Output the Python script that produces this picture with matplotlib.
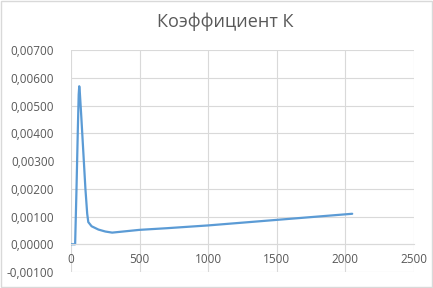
import matplotlib.pyplot as plt
from matplotlib.ticker import FuncFormatter, MultipleLocator
from matplotlib.patches import Rectangle

# values
x_vals = [0, 30, 40, 50, 56, 60, 64, 75, 90, 105, 118, 126, 150, 200, 250, 300,
          400, 500, 700, 1000, 1250, 1500, 1750, 2050]
k_vals = [0.0, 0.0, 0.0020, 0.0042, 0.0054, 0.0057, 0.0055, 0.0046, 0.0033, 0.0020,
          0.0011, 0.00080, 0.00065, 0.00053, 0.00046, 0.00042,
          0.00047, 0.00052, 0.00058, 0.00068, 0.00078, 0.00088, 0.00098, 0.00110]

title = "Коэффициент К"

plt.rcParams['font.family'] = ['Open Sans', 'DejaVu Sans']

fig = plt.figure(figsize=(4.33, 2.88), dpi=100)
ax = fig.add_axes([0.164, 0.0556, 0.792, 0.770])

ax.plot(x_vals, k_vals, color='#5B9BD5', lw=1.6, solid_capstyle='round', solid_joinstyle='round')

ax.set_xlim(0, 2500)
ax.set_ylim(-0.001, 0.007)
ax.xaxis.set_major_locator(MultipleLocator(500))
ax.yaxis.set_major_locator(MultipleLocator(0.001))
ax.yaxis.set_major_formatter(FuncFormatter(lambda v, p: f"{v:.5f}".replace('.', ',').replace('-0,00000', '0,00000')))

ax.grid(True, color='#D9D9D9', lw=0.8)
ax.set_axisbelow(True)
for s in ['top', 'right', 'left']:
    ax.spines[s].set_visible(False)
ax.spines['bottom'].set_position(('data', 0))
ax.spines['bottom'].set_color('#D9D9D9')
ax.tick_params(length=0, labelsize=8.5, labelcolor='#595959')
ax.tick_params(axis='x', pad=6)
ax.tick_params(axis='y', pad=12)

fig.suptitle(title, x=0.52, y=0.955, fontsize=13, color='#595959')

fig.patches.append(Rectangle((0.003, 0.003), 0.994, 0.994, transform=fig.transFigure,
                             fill=False, edgecolor='#D9D9D9', lw=1))

fig.savefig('out.png', dpi=100)
